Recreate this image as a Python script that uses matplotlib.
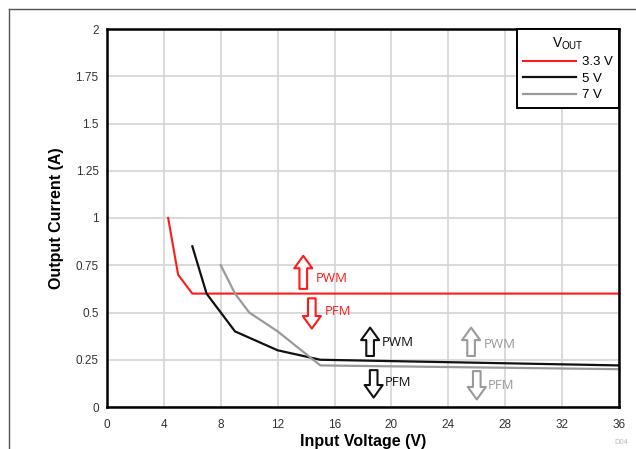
import matplotlib.pyplot as plt
from matplotlib.lines import Line2D

# data
vin_33 = [4.3, 5, 6, 36]
iout_33 = [1.0, 0.7, 0.6, 0.6]
vin_5 = [6, 7, 9, 12, 15, 36]
iout_5 = [0.85, 0.6, 0.4, 0.3, 0.25, 0.22]
vin_7 = [8, 9, 10, 12, 15, 36]
iout_7 = [0.75, 0.6, 0.5, 0.4, 0.22, 0.2]

colors = {"3.3 V": "#ff1a1a", "5 V": "#111111", "7 V": "#9a9a9a"}

# mode marker arrows: (x, y_tail, y_head, text_x, text_y, label, color)
mode_arrows = [
    (13.8, 0.625, 0.80, 14.7, 0.68, "PWM", "3.3 V"),
    (14.4, 0.575, 0.415, 15.3, 0.507, "PFM", "3.3 V"),
    (18.5, 0.27, 0.42, 19.3, 0.34, "PWM", "5 V"),
    (18.75, 0.195, 0.05, 19.5, 0.127, "PFM", "5 V"),
    (25.6, 0.27, 0.42, 26.5, 0.33, "PWM", "7 V"),
    (26.0, 0.19, 0.04, 26.8, 0.116, "PFM", "7 V"),
]

plt.rcParams["font.family"] = ["Liberation Sans", "DejaVu Sans"]

fig = plt.figure(figsize=(6.36, 4.49), dpi=100)
ax = fig.add_axes([107 / 636, 1 - 407 / 449, 512 / 636, 378 / 449])

ax.plot(vin_33, iout_33, color=colors["3.3 V"], lw=1.5, label="3.3 V")
ax.plot(vin_5, iout_5, color=colors["5 V"], lw=1.6, label="5 V")
ax.plot(vin_7, iout_7, color=colors["7 V"], lw=1.6, label="7 V")

for x, y0, y1, tx, ty, txt, key in mode_arrows:
    c = colors[key]
    ax.annotate("", xy=(x, y1), xytext=(x, y0),
                arrowprops=dict(arrowstyle="simple,head_width=1.3,head_length=0.9,tail_width=0.55",
                                fc="white", ec=c, lw=1.5, mutation_scale=10,
                                shrinkA=0, shrinkB=0))
    ax.text(tx, ty, txt, color=c, fontsize=9.5, va="center", ha="left",
            family=["Open Sans", "DejaVu Sans"])

ax.set_xlim(0, 36)
ax.set_ylim(0, 2)
ax.set_xticks(range(0, 37, 4))
ax.set_yticks([0, 0.25, 0.5, 0.75, 1, 1.25, 1.5, 1.75, 2])
ax.set_yticklabels(["0", "0.25", "0.5", "0.75", "1", "1.25", "1.5", "1.75", "2"])
ax.tick_params(axis="y", length=0, labelsize=8.5, colors="#333333", pad=6)
ax.tick_params(axis="x", length=0, labelsize=8.5, colors="#333333", pad=9)
ax.grid(True, color="#d4d4d4", lw=1.2)
ax.set_axisbelow(True)
for s in ax.spines.values():
    s.set_linewidth(1.8)
    s.set_color("black")

ax.set_xlabel("Input Voltage (V)", fontsize=11.5, fontweight="bold", labelpad=2)
ax.set_ylabel("Output Current (A)", fontsize=11.5, fontweight="bold", labelpad=8)

leg = ax.legend(title="V$_{\\mathregular{OUT}}$", loc="upper right", fontsize=9.5,
                title_fontsize=10, handlelength=4.0, handletextpad=0.4,
                labelspacing=0.32, borderpad=0.5, fancybox=False,
                framealpha=1, borderaxespad=0)
leg.get_frame().set_edgecolor("black")
leg.get_frame().set_linewidth(1.4)

# outer frame (top and left only)
fig.add_artist(Line2D([8.5 / 636, 8.5 / 636], [0, 1 - 8.5 / 449],
                      transform=fig.transFigure, color="#555555", lw=1))
fig.add_artist(Line2D([8.5 / 636, 1], [1 - 8.5 / 449, 1 - 8.5 / 449],
                      transform=fig.transFigure, color="#555555", lw=1))
fig.text(628 / 636, 1 - 443 / 449, "D04", color="#bbbbbb", fontsize=5.5,
         ha="right", va="center")

fig.savefig("out.png", dpi=100)
